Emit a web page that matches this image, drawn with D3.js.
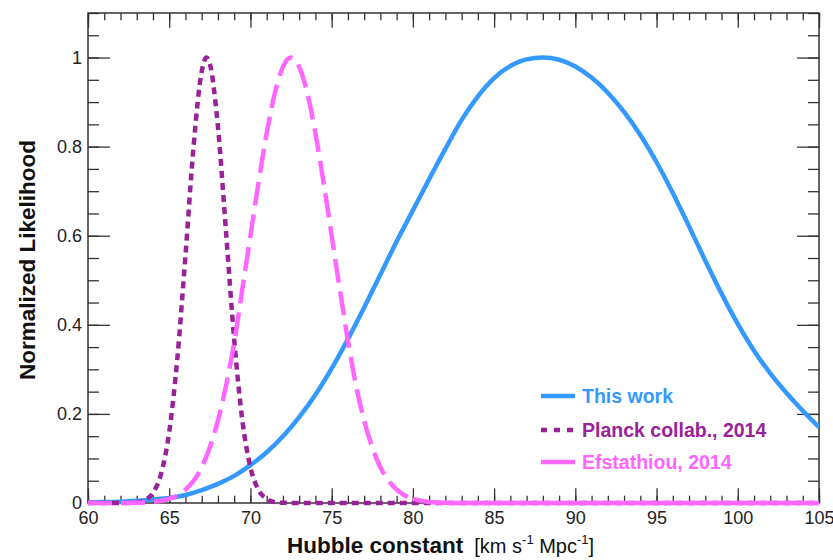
<!DOCTYPE html>
<html>
<head>
<meta charset="utf-8">
<script src="https://cdn.jsdelivr.net/npm/d3@7"></script>
<style>
  body { margin: 0; background: #fff; }
  text { font-family: "Liberation Sans", Arial, Helvetica, sans-serif; }
</style>
</head>
<body>
<div id="chart"></div>
<script>
// H0 grid and likelihood values
var thisWorkX = [60, 61, 62, 63, 64, 65, 66, 67, 68, 69, 70, 71, 72, 73, 74, 75, 76, 77, 78, 79, 80,
                 81, 82, 83, 84, 85, 86, 87, 88, 89, 90, 91, 92, 93, 94, 95, 96, 97, 98, 99, 100,
                 101, 102, 103, 104, 105];
var thisWorkY = [0.001, 0.002, 0.003, 0.005, 0.008, 0.011, 0.018, 0.029, 0.043, 0.061, 0.085,
                 0.114, 0.150, 0.193, 0.243, 0.302, 0.368, 0.439, 0.513, 0.587, 0.657,
                 0.727, 0.795, 0.860, 0.913, 0.954, 0.981, 0.996, 1.000, 0.995, 0.980,
                 0.955, 0.921, 0.878, 0.826, 0.765, 0.696, 0.621, 0.544, 0.470, 0.402,
                 0.342, 0.291, 0.247, 0.207, 0.170];

var planckX = [60, 62, 63, 63.5, 64, 64.5, 65, 65.5, 66, 66.5, 67, 67.3, 67.5, 68, 68.5, 69,
               69.5, 70, 70.5, 71, 71.5, 72, 73, 105];
var planckY = [0, 0.0001, 0.0016, 0.0066, 0.0228, 0.0657, 0.159, 0.325, 0.556, 0.801, 0.969, 1,
               0.986, 0.844, 0.607, 0.367, 0.186, 0.080, 0.029, 0.009, 0.002, 0.0005, 0, 0];

var efstX = [60, 62, 63, 64, 65, 65.5, 66, 66.5, 67, 67.5, 68, 68.5, 69, 69.5, 70, 70.5, 71,
             71.5, 72, 72.5, 73, 73.5, 74, 74.5, 75, 75.5, 76, 76.5, 77, 77.5, 78, 78.5, 79,
             79.5, 80, 81, 82, 83, 105];
var efstY = [0, 0.0001, 0.0005, 0.0024, 0.0092, 0.017, 0.030, 0.050, 0.080, 0.125, 0.185,
             0.264, 0.360, 0.480, 0.600, 0.720, 0.830, 0.920, 0.979, 1, 0.979, 0.920, 0.830,
             0.720, 0.600, 0.480, 0.365, 0.264, 0.185, 0.125, 0.080, 0.050, 0.030, 0.017,
             0.0092, 0.0024, 0.0005, 0.0001, 0];

var xMajorTicks = [60, 65, 70, 75, 80, 85, 90, 95, 100, 105];
var xTickLabels = ["60", "65", "70", "75", "80", "85", "90", "95", "100", "105"];
var yMajorTicks = [0, 0.2, 0.4, 0.6, 0.8, 1];
var yTickLabels = ["0", "0.2", "0.4", "0.6", "0.8", "1"];

var legendNames = ["This work", "Planck collab., 2014", "Efstathiou, 2014"];

// layout
var W = 833, H = 560;
var margin = { top: 13, right: 14, bottom: 57, left: 88 },
    width = W - margin.left - margin.right,
    height = H - margin.top - margin.bottom;

var blue = "#3399ff", purple = "#992299", pink = "#ff66ff";

var svg = d3.select("#chart").append("svg")
    .attr("width", W)
    .attr("height", H);

var g = svg.append("g")
    .attr("transform", "translate(" + margin.left + "," + margin.top + ")");

var x = d3.scaleLinear().domain([60, 105]).range([0, width]);
var y = d3.scaleLinear().domain([0, 1.1]).range([height, 0]);

// ticks point inward, ROOT style
var xMinor = d3.range(60, 105.5, 1);
var yMinor = d3.range(0, 1.1001, 0.05);
var tickX = 0.03 * height, tickY = 0.03 * width;

function styleAxis(sel) {
    sel.select(".domain").remove();
    sel.selectAll("line").attr("stroke", "#333").attr("stroke-width", 1.3);
    sel.selectAll("text").attr("font-size", 18).attr("fill", "#222");
}

g.append("g").attr("transform", "translate(0," + height + ")")
    .call(d3.axisBottom(x).tickValues(xMinor).tickSize(-tickX / 2).tickFormat(""))
    .call(styleAxis);
var xLab = g.append("g").attr("transform", "translate(0," + height + ")")
    .call(d3.axisBottom(x).tickValues(xMajorTicks).tickSize(-tickX).tickPadding(8)
        .tickFormat(function (d, i) { return xTickLabels[i]; }))
    .call(styleAxis);
// last label sits right on the page edge, keep it inside
xLab.selectAll("text").filter(function (d) { return d === 105; }).attr("text-anchor", "end").attr("x", 15);
g.append("g")
    .call(d3.axisTop(x).tickValues(xMinor).tickSize(-tickX / 2).tickFormat(""))
    .call(styleAxis);
g.append("g")
    .call(d3.axisTop(x).tickValues(xMajorTicks).tickSize(-tickX).tickFormat(""))
    .call(styleAxis);

g.append("g")
    .call(d3.axisLeft(y).tickValues(yMinor).tickSize(-tickY / 2).tickFormat(""))
    .call(styleAxis);
g.append("g")
    .call(d3.axisLeft(y).tickValues(yMajorTicks).tickSize(-tickY).tickPadding(6)
        .tickFormat(function (d, i) { return yTickLabels[i]; }))
    .call(styleAxis);
g.append("g").attr("transform", "translate(" + width + ",0)")
    .call(d3.axisRight(y).tickValues(yMinor).tickSize(-tickY / 2).tickFormat(""))
    .call(styleAxis);
g.append("g").attr("transform", "translate(" + width + ",0)")
    .call(d3.axisRight(y).tickValues(yMajorTicks).tickSize(-tickY).tickFormat(""))
    .call(styleAxis);

// frame
g.append("rect")
    .attr("width", width).attr("height", height)
    .attr("fill", "none").attr("stroke", "#333").attr("stroke-width", 1.5);

// curves
g.append("clipPath").attr("id", "clip")
    .append("rect").attr("x", -3).attr("y", 0).attr("width", width + 3).attr("height", height + 3);

var line = d3.line()
    .x(function (d) { return x(d[0]); })
    .y(function (d) { return y(d[1]); })
    .curve(d3.curveMonotoneX);

function zip(a, b) { return a.map(function (v, i) { return [v, b[i]]; }); }

var curves = g.append("g").attr("clip-path", "url(#clip)");

curves.append("path")
    .datum(zip(thisWorkX, thisWorkY))
    .attr("d", line)
    .attr("fill", "none").attr("stroke", blue).attr("stroke-width", 4.5);

curves.append("path")
    .datum(zip(planckX, planckY))
    .attr("d", line)
    .attr("fill", "none").attr("stroke", purple).attr("stroke-width", 4.5)
    .attr("stroke-dasharray", "7,5");

// the flat tail of the Efstathiou curve comes out solid in the original
var efst = zip(efstX, efstY);
curves.append("path")
    .datum(efst.filter(function (d) { return d[0] <= 80; }))
    .attr("d", line)
    .attr("fill", "none").attr("stroke", pink).attr("stroke-width", 4.5)
    .attr("stroke-dasharray", "24,9");
curves.append("path")
    .datum(efst.filter(function (d) { return d[0] >= 80; }))
    .attr("d", line)
    .attr("fill", "none").attr("stroke", pink).attr("stroke-width", 4.5);

// legend
var legend = svg.append("g").attr("transform", "translate(541,396)");
var legColors = [blue, purple, pink];
var legDash = [null, "6,7", null];
var legDy = [0, 34, 66];
legendNames.forEach(function (name, i) {
    legend.append("line")
        .attr("x1", 0).attr("x2", 34)
        .attr("y1", legDy[i]).attr("y2", legDy[i])
        .attr("stroke", legColors[i]).attr("stroke-width", 4.5)
        .attr("stroke-dasharray", legDash[i]);
    legend.append("text")
        .attr("x", 41).attr("y", legDy[i]).attr("dy", "0.36em")
        .attr("font-size", 19.5).attr("font-weight", "bold")
        .attr("fill", legColors[i])
        .text(name);
});

// axis titles
var xt = svg.append("text")
    .attr("x", 287).attr("y", 553)
    .attr("font-size", 22.5).attr("fill", "#111");
xt.append("tspan").attr("font-weight", "bold").text("Hubble constant");
xt.append("tspan").attr("dx", 11).attr("font-size", 20).text("[km s");
xt.append("tspan").attr("font-size", 13).attr("dy", -9).text("-1");
xt.append("tspan").attr("font-size", 20).attr("dy", 9).text(" Mpc");
xt.append("tspan").attr("font-size", 13).attr("dy", -9).text("-1");
xt.append("tspan").attr("font-size", 20).attr("dy", 9).text("]");

svg.append("text")
    .attr("transform", "translate(35,260) rotate(-90)")
    .attr("text-anchor", "middle")
    .attr("font-size", 22.5).attr("font-weight", "bold").attr("fill", "#111")
    .text("Normalized Likelihood");
</script>
</body>
</html>
